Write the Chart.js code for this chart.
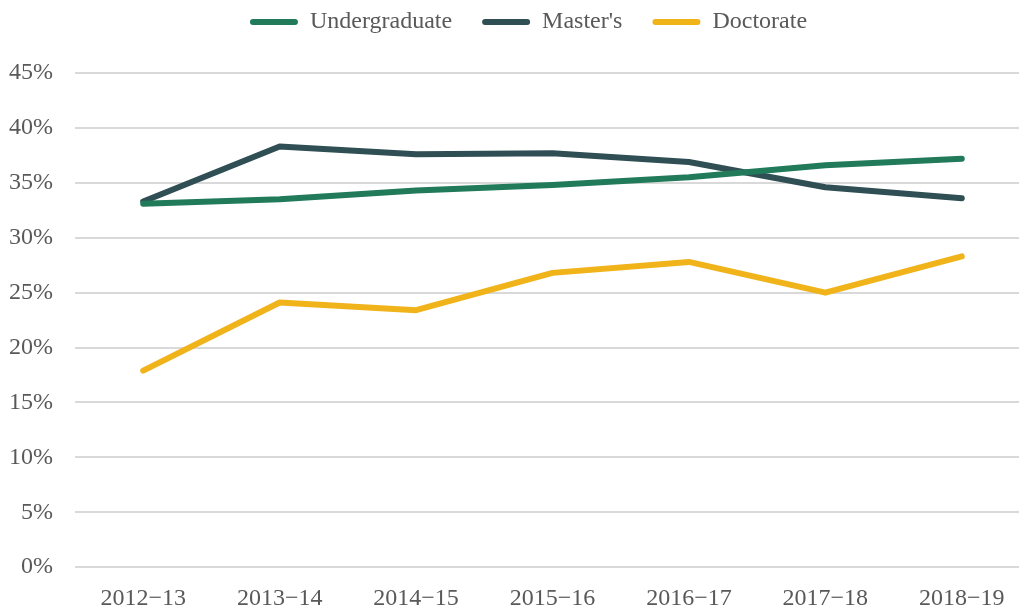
<!DOCTYPE html>
<html>
<head>
<meta charset="utf-8">
<script src="https://cdn.jsdelivr.net/npm/chart.js@4/dist/chart.umd.min.js"></script>
<style>
  html, body { margin: 0; padding: 0; background: #fff; overflow: hidden; }
  #wrap { width: 1030px; height: 622px; }
</style>
</head>
<body>
<div id="wrap"><canvas id="myChart"></canvas></div>
<script>
// anos academicos y porcentajes por nivel
const years = ['2012\u221213', '2013\u221214', '2014\u221215', '2015\u221216', '2016\u221217', '2017\u221218', '2018\u221219'];
const undergraduate = [33.1, 33.5, 34.3, 34.8, 35.5, 36.6, 37.2];
const masters = [33.3, 38.3, 37.6, 37.7, 36.9, 34.6, 33.6];
const doctorate = [17.9, 24.1, 23.4, 26.8, 27.8, 25.0, 28.3];
const yTicks = [0, 5, 10, 15, 20, 25, 30, 35, 40, 45];

const fontFamily = "'Liberation Serif', 'Times New Roman', serif";
const textColor = '#595959';

const serie = (label, values, color) => ({
    label: label,
    data: values,
    borderColor: color,
    backgroundColor: color,
    borderWidth: 6,
    borderCapStyle: 'round',
    borderJoinStyle: 'round',
    pointRadius: 0,
    tension: 0
});

const data = {
    labels: years,
    datasets: [
        serie('Undergraduate', undergraduate, '#217a5a'),
        serie("Master's", masters, '#2f4f54'),
        serie('Doctorate', doctorate, '#f0b31a')
    ]
};

const config = {
    type: 'line',
    data: data,
    options: {
        responsive: true,
        maintainAspectRatio: false,
        animation: false,
        layout: { padding: { left: 0, right: 0, top: 3, bottom: 0 } },
        plugins: {
            legend: {
                position: 'top',
                labels: {
                    font: { family: fontFamily, size: 24 },
                    color: textColor,
                    boxWidth: 48,
                    boxHeight: 6,
                    useBorderRadius: true,
                    borderRadius: 3,
                    padding: 30,
                    generateLabels: (chart) => Chart.defaults.plugins.legend.labels.generateLabels(chart)
                        .map(item => Object.assign(item, { lineWidth: 0 }))
                }
            },
            tooltip: { enabled: false }
        },
        scales: {
            x: {
                offset: true,
                grid: { display: false },
                border: { display: false },
                ticks: { font: { family: fontFamily, size: 24 }, color: textColor, padding: 9, maxRotation: 0 }
            },
            y: {
                min: 0,
                max: 45,
                afterBuildTicks: (axis) => { axis.ticks = yTicks.map(v => ({ value: v })); },
                afterFit: (axis) => { axis.width = 75; },
                grid: { color: '#d9d9d9', lineWidth: 2, drawTicks: false },
                border: { display: false },
                ticks: {
                    font: { family: fontFamily, size: 24 },
                    color: textColor,
                    padding: 22,
                    callback: (v) => v + '%'
                }
            }
        }
    },
    plugins: [{
        id: 'legendBox',
        beforeInit(chart) {
            const fit = chart.legend.fit;
            chart.legend.fit = function () {
                fit.call(this);
                this.height = 70;
            };
        },
        afterLayout(chart) {
            // leyenda algo desplazada a la derecha y arriba, como en el original
            chart.legend.left += 27;
            chart.legend.top -= 23;
        }
    }]
};

const myChart = new Chart(document.getElementById('myChart'), config);
</script>
</body>
</html>
